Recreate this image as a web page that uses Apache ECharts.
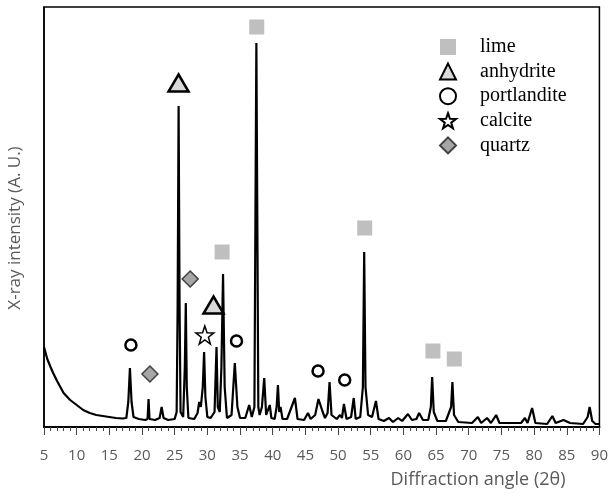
<!DOCTYPE html>
<html>
<head>
<meta charset="utf-8">
<script src="https://cdn.jsdelivr.net/npm/echarts@6/dist/echarts.min.js"></script>
<style>
html, body { margin: 0; padding: 0; background: #fff; }
#chart { width: 611px; height: 497px; }
</style>
</head>
<body>
<div id="chart"></div>
<script>
// diffraction pattern, [2theta, intensity]
const xrd = [
	[5.0, 80], [5.5, 68], [6.0, 60], [6.4, 54], [7.0, 46], [7.5, 40], [8.0, 34], [9.0, 27],
	[10.0, 22], [11.0, 17], [12.0, 14], [13.0, 12], [14.0, 11], [15.0, 10], [16.0, 9], [17.0, 8.5],
	[17.6, 9], [17.9, 25], [18.15, 59], [18.4, 25], [18.7, 10], [19.5, 8], [20.5, 7],
	[20.85, 8], [21.0, 28], [21.15, 8], [22.0, 7], [22.7, 9], [23.0, 20], [23.3, 9], [24.0, 7],
	[25.0, 8], [25.3, 15], [25.45, 120], [25.6, 321], [25.75, 120], [25.9, 15],
	[26.3, 10], [26.55, 60], [26.7, 124], [26.85, 40], [27.1, 9], [28.0, 8],
	[28.5, 14], [28.75, 25], [29.0, 20], [29.3, 40], [29.5, 75], [29.7, 30], [30.0, 10],
	[30.5, 9], [31.1, 15], [31.4, 80], [31.6, 20], [31.9, 15], [32.15, 60], [32.4, 153],
	[32.65, 40], [33.0, 9], [33.7, 12], [34.2, 64], [34.6, 20], [35.0, 9], [35.8, 9],
	[36.4, 22], [36.8, 10], [37.2, 20], [37.5, 384], [37.8, 20], [38.0, 12], [38.35, 20],
	[38.7, 49], [39.0, 12], [39.3, 10], [39.55, 22], [39.8, 9], [40.3, 8], [40.6, 20],
	[40.8, 42], [41.0, 15], [41.2, 20], [41.5, 8], [42.2, 8], [43.4, 29], [43.8, 8],
	[44.8, 7], [45.4, 14], [45.8, 8], [46.5, 12], [47.0, 28], [47.2, 30], [47.6, 16],
	[48.0, 9], [48.4, 14], [48.7, 45], [49.0, 12], [49.8, 8], [50.3, 12], [50.6, 9],
	[50.9, 23], [51.3, 8], [52.0, 10], [52.4, 29], [52.7, 8], [53.4, 10], [53.8, 40],
	[54.0, 175], [54.2, 40], [54.6, 12], [55.2, 10], [55.8, 26], [56.2, 8], [57.0, 6],
	[57.8, 9], [58.4, 5], [59.2, 9], [59.8, 6], [60.7, 13], [61.3, 7], [62.0, 8],
	[62.4, 14], [63.0, 7], [63.8, 7], [64.2, 20], [64.4, 50], [64.65, 15], [65.2, 6],
	[66.5, 6], [67.3, 20], [67.5, 45], [67.75, 12], [68.4, 5], [70.5, 4], [71.4, 10],
	[71.9, 4], [72.8, 9], [73.4, 4], [74.2, 12], [74.7, 4], [76.0, 4], [78.0, 4],
	[78.6, 9], [79.0, 4], [79.7, 19], [80.2, 4], [82.0, 3], [82.8, 11], [83.3, 4],
	[84.5, 7], [85.5, 4], [87.5, 3], [88.2, 10], [88.5, 20], [88.9, 6], [89.4, 3], [90.0, 3]
];

// phase markers, placed above their peaks
const lime = [[37.56, 400], [32.26, 175], [54.08, 199], [64.52, 76], [67.79, 68]];
const anhydrite = [[25.59, 344], [30.94, 122]];
const portlandite = [[18.3, 82], [34.46, 86], [46.94, 56], [51.02, 47]];
const calcite = [[29.61, 92]];
const quartz = [[21.21, 53], [27.37, 148]];

const xTicks = { min: 5, max: 90, step: 5 };

const star = 'path://M50,0 L61.76,33.82 L97.55,34.55 L69.02,56.18 L79.39,90.45 L50,70 L20.61,90.45 L30.98,56.18 L2.45,34.55 L38.24,33.82 Z';
const grey = '#595959';

var myChart = echarts.init(document.getElementById('chart'));

var option = {
	animation: false,
	grid: {
		left: 44, right: 11, top: 7, bottom: 70,
		show: true, borderColor: '#000', borderWidth: 1.5
	},
	legend: {
		orient: 'vertical',
		left: 434, top: 32,
		itemWidth: 16, itemHeight: 16, itemGap: 4.6,
		textStyle: {
			fontFamily: 'Liberation Serif', fontSize: 20, color: '#000',
			lineHeight: 20, padding: [0, 0, 0, 19]
		},
		data: ['lime', 'anhydrite', 'portlandite', 'calcite', 'quartz']
	},
	xAxis: {
		type: 'value',
		min: xTicks.min, max: xTicks.max, interval: xTicks.step,
		axisLine: { lineStyle: { color: '#000', width: 2 } },
		axisTick: { show: true, length: 8, lineStyle: { color: '#444', width: 1 } },
		minorTick: { show: true, splitNumber: 5, length: 4, lineStyle: { color: '#444', width: 1 } },
		axisLabel: { color: grey, fontFamily: 'Open Sans', fontSize: 15, margin: 21 },
		splitLine: { show: false }
	},
	yAxis: {
		type: 'value', min: 0, max: 420,
		axisLine: { show: true, lineStyle: { color: '#000', width: 1.5 } },
		axisTick: { show: false },
		axisLabel: { show: false },
		splitLine: { show: false }
	},
	graphic: [
		{
			type: 'text', x: 478, y: 480,
			style: {
				text: 'Diffraction angle (2θ)', fill: grey,
				font: '18px "Open Sans"', align: 'center', verticalAlign: 'middle'
			}
		},
		{
			type: 'text', x: 15, y: 228, rotation: Math.PI / 2,
			style: {
				text: 'X-ray intensity (A. U.)', fill: grey,
				font: '17px "Open Sans"', align: 'center', verticalAlign: 'middle'
			}
		}
	],
	series: [
		{
			name: 'pattern', type: 'line', data: xrd,
			showSymbol: false, silent: true,
			lineStyle: { color: '#000', width: 2.2 }
		},
		{
			name: 'lime', type: 'scatter', data: lime,
			symbol: 'rect', symbolSize: 15,
			itemStyle: { color: '#BFBFBF', opacity: 1 }
		},
		{
			name: 'anhydrite', type: 'scatter', data: anhydrite,
			symbol: 'triangle', symbolSize: [20, 17],
			itemStyle: { color: '#D9D9D9', borderColor: '#000', borderWidth: 2.5, opacity: 1 }
		},
		{
			name: 'portlandite', type: 'scatter', data: portlandite,
			symbol: 'circle', symbolSize: 11,
			itemStyle: { color: '#fff', borderColor: '#000', borderWidth: 2.5, opacity: 1 }
		},
		{
			name: 'calcite', type: 'scatter', data: calcite,
			symbol: star, symbolSize: 18,
			itemStyle: { color: '#fff', borderColor: '#000', borderWidth: 1.5, opacity: 1 }
		},
		{
			name: 'quartz', type: 'scatter', data: quartz,
			symbol: 'diamond', symbolSize: 16,
			itemStyle: { color: '#A6A6A6', borderColor: '#404040', borderWidth: 1.5, opacity: 1 }
		}
	]
};

myChart.setOption(option);
</script>
</body>
</html>
